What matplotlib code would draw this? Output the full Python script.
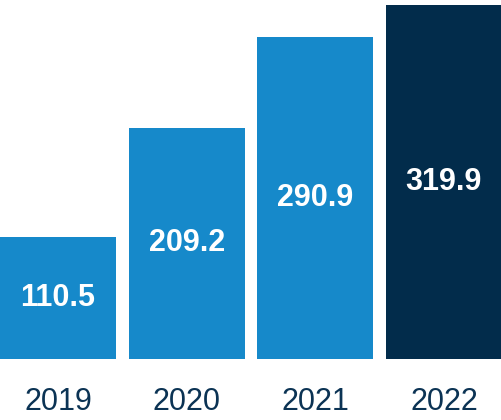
import matplotlib
matplotlib.use("Agg")
import matplotlib.pyplot as plt

years = ["2019", "2020", "2021", "2022"]
values = [110.5, 209.2, 290.9, 319.9]
colors = ["#1689CA", "#1689CA", "#1689CA", "#022C4B"]

plt.rcParams["font.family"] = ["Liberation Sans", "DejaVu Sans"]

fig = plt.figure(figsize=(5.02, 4.2), dpi=100)
ax = fig.add_axes([0, 0.145, 1, 0.855])

x = range(len(years))
bars = ax.bar(x, values, width=0.904, color=colors)
for xi, v in zip(x, values):
    ax.text(xi, v / 2, f"{v:.1f}", ha="center", va="center",
            color="white", fontsize=22, fontweight="bold")

ax.set_xlim(-0.452, 3.452)
ax.set_ylim(0, 324.6)
ax.set_xticks(list(x))
ax.set_xticklabels(years, fontsize=22, color="#0B3354")
ax.tick_params(axis="x", length=0, pad=20)
ax.set_yticks([])
for s in ax.spines.values():
    s.set_visible(False)

fig.savefig("out.png", dpi=100)
